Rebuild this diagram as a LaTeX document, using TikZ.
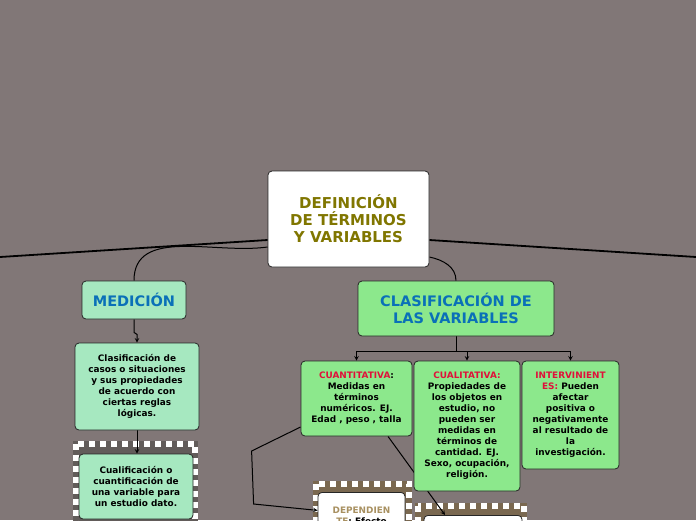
\documentclass[tikz,border=0pt]{standalone}
\usepackage{fontspec}
\setmainfont{DejaVu Sans}

\definecolor{canvasgray}{RGB}{129,119,119}
\definecolor{titleolive}{RGB}{128,118,0}
\definecolor{mint}{RGB}{166,232,192}
\definecolor{leaf}{RGB}{140,232,140}
\definecolor{headblue}{RGB}{10,112,184}
\definecolor{alertred}{RGB}{224,16,58}
\definecolor{goldbrown}{RGB}{168,144,96}
\definecolor{framegray}{RGB}{98,92,90}
\definecolor{framebrown}{RGB}{122,104,80}

\pgfdeclarelayer{canvas}
\pgfdeclarelayer{edges}
\pgfsetlayers{canvas,edges,main}

\begin{document}
\begin{tikzpicture}[x=1pt, y=-1pt, >=stealth,
  box/.style={draw=black!85, line width=0.8pt, rounded corners=4pt, inner sep=0pt, align=center,
    font=\bfseries\fontsize{8.9}{11}\selectfont},
  mintbox/.style={box, fill=mint},
  leafbox/.style={box, fill=leaf},
  paperbox/.style={box, fill=white},
  headtext/.style={font=\bfseries\fontsize{14.5}{17.5}\selectfont, text=headblue},
  dotframe/.style={fill=#1, draw=#1, line width=6pt,
    postaction={draw=white, line width=6pt, dash pattern=on 6pt off 5pt}},
  mainline/.style={line width=1.8pt},
  link/.style={line width=1pt}]
  \useasboundingbox (0,0) rectangle (696,520);
  \begin{pgfonlayer}{canvas}
    \fill[canvasgray] (0,0) rectangle (696,520);
  \end{pgfonlayer}

  % Central topic
  \node[paperbox, minimum width=161pt, minimum height=96pt, text=titleolive,
    font=\bfseries\fontsize{15}{17}\selectfont] (title) at (348.5,219)
    {DEFINICIÓN\\DE TÉRMINOS\\Y VARIABLES};
  \coordinate (westend) at (0,257);
  \coordinate (eastend) at (696,257);

  % Left branch
  \node[mintbox, headtext, minimum width=104pt, minimum height=38pt] (medicion) at (134,300) {MEDICIÓN};
  \node[mintbox, minimum width=124pt, minimum height=87pt] (casos) at (137,386.5)
    {Clasificación de\\casos o situaciones\\y sus propiedades\\de acuerdo con\\ciertas reglas\\lógicas.};
  \node[mintbox, minimum width=114pt, minimum height=65pt] (cualif) at (136,486.5)
    {Cualificación o\\cuantificación de\\una variable para\\un estudio dato.};

  % Right branch
  \node[leafbox, headtext, minimum width=196pt, minimum height=55pt] (clasif) at (456,308.5)
    {CLASIFICACIÓN DE\\LAS VARIABLES};
  \node[leafbox, minimum width=111pt, minimum height=75pt] (cuanti) at (356.5,398.5)
    {{\color{alertred}CUANTITATIVA}:\\Medidas en\\términos\\numéricos. EJ.\\Edad , peso , talla};
  \node[leafbox, minimum width=106pt, minimum height=130pt] (cuali) at (467,426)
    {{\color{alertred}CUALITATIVA:}\\Propiedades de\\los objetos en\\estudio, no\\pueden ser\\medidas en\\términos de\\cantidad. EJ.\\Sexo, ocupación,\\religión.};
  \node[leafbox, minimum width=97pt, minimum height=108pt] (interv) at (570.5,415)
    {{\color{alertred}INTERVINIENT}\\{\color{alertred}ES:} Pueden\\afectar\\positiva o\\negativamente\\al resultado de\\la\\investigación.};
  \node[paperbox, minimum width=87pt, minimum height=46pt, anchor=north] (depend) at (361.5,492)
    {{\color{goldbrown}DEPENDIEN}\\{\color{goldbrown}TE}: Efecto};
  \node[paperbox, minimum width=98pt, minimum height=40pt, anchor=north] (varbox) at (473,515) {};

  \begin{pgfonlayer}{edges}
    % dotted frames
    \draw[dotframe=framegray] ([xshift=-3pt,yshift=10pt]cualif.north west) rectangle ([xshift=2pt,yshift=-12pt]cualif.south east);
    \draw[dotframe=framebrown] ([xshift=-2pt,yshift=8pt]depend.north west) rectangle ([xshift=4pt,yshift=-10pt]depend.south east);
    \draw[dotframe=framebrown] ([xshift=-6pt,yshift=9pt]varbox.north west) rectangle ([xshift=2pt,yshift=-10pt]varbox.south east);

    % main branches
    \draw[mainline] (westend) -- ([yshift=-21pt]title.west);
    \draw[mainline] ([yshift=-21pt]title.east) -- (eastend);
    \draw[link] ([yshift=-28pt]title.west) to[out=188, in=90] (medicion.north);
    \draw[link] ([yshift=-38pt]title.east) to[out=-12, in=90] (clasif.north);

    % left chain
    \draw[link,->] (medicion.south) -- ++(0,13) -- ++(3,2) -- (casos.north);
    \draw[link,->] (casos.south) -- (casos.south |- cualif.north);

    % classification tree
    \path (clasif.south) ++(0,15) coordinate (fork);
    \draw[link] (clasif.south) -- (fork);
    \draw[link] (fork -| cuanti.north) -- (fork -| interv.north);
    \foreach \leaf in {cuanti, cuali, interv}
      \draw[link,->] (fork -| \leaf.north) -- (\leaf.north);
    \draw[link,->] ([yshift=-28.5pt]cuanti.west) -- ++(-49,24) -- ++(2,53) -- ([yshift=5pt]depend.west);
    \draw[link,->] ([xshift=31.5pt]cuanti.south) -- ([xshift=-28pt]varbox.north);
  \end{pgfonlayer}
\end{tikzpicture}
\end{document}
